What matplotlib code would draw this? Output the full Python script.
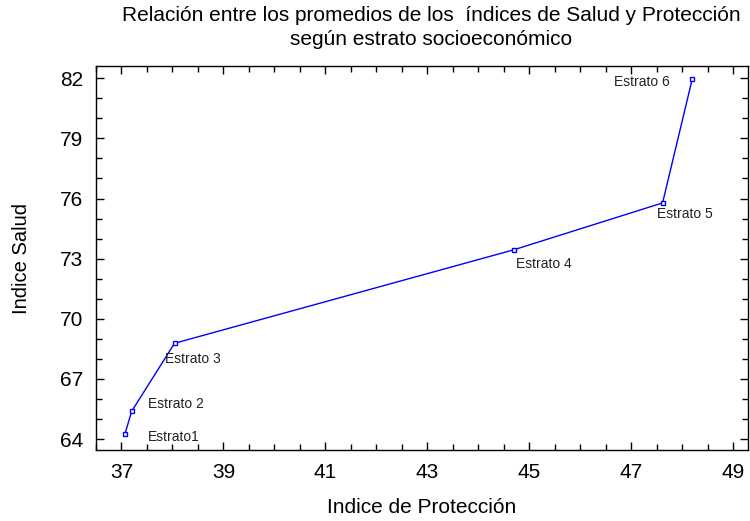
import numpy as np
import matplotlib
matplotlib.use('Agg')
import matplotlib.pyplot as plt

plt.rcParams['font.family'] = ['Liberation Sans', 'DejaVu Sans']

# promedios por estrato
proteccion = [37.07, 37.20, 38.04, 44.69, 47.61, 48.19]
salud = [64.28, 65.39, 68.78, 73.44, 75.78, 81.94]
etiquetas = ['Estrato1', 'Estrato 2', 'Estrato 3', 'Estrato 4', 'Estrato 5', 'Estrato 6']
xticks = [37, 39, 41, 43, 45, 47, 49]
yticks = [64, 67, 70, 73, 76, 79, 82]
# desplazamiento de cada etiqueta (puntos) y alineacion
desp = [(16.5, -2.7), (12, 5), (-7, -11), (1.7, -10), (-3.8, -7.7), (-16, -2)]
alin = ['left', 'left', 'left', 'left', 'left', 'right']

fig = plt.figure(figsize=(7.5, 5.21), dpi=100)
ax = fig.add_axes([0.128, 0.136, 0.869, 0.737])

ax.plot(proteccion, salud, color='#0000ff', lw=1, marker='s', ms=3.2,
        mfc='white', mec='#0000ff', mew=1)
for x, y, t, d, a in zip(proteccion, salud, etiquetas, desp, alin):
    ax.annotate(t, (x, y), xytext=d, textcoords='offset points',
                fontsize=10, color='#222222', va='center', ha=a)

ax.set_xlim(36.65, 49.28)
ax.set_ylim(63.45, 82.6)
ax.set_xticks(xticks)
ax.set_xticks(np.arange(36.5, 49.3, 0.5), minor=True)
ax.set_yticks(yticks)
ax.set_yticks(np.arange(64, 83, 1), minor=True)
ax.tick_params(which='both', direction='in', top=True, right=True, width=1)
ax.tick_params(which='major', length=6, labelsize=15, pad=9)
ax.tick_params(which='minor', length=4)
for s in ax.spines.values():
    s.set_linewidth(1)

ax.set_xlabel('Indice de Protección', fontsize=15, labelpad=12)
ax.set_ylabel('Indice Salud', fontsize=14.5, labelpad=21)
fig.text(0.575, 0.988, 'Relación entre los promedios de los  índices de Salud y Protección\nsegún estrato socioeconómico',
         ha='center', va='top', fontsize=15, linespacing=1.3)

plt.savefig('out.png')
